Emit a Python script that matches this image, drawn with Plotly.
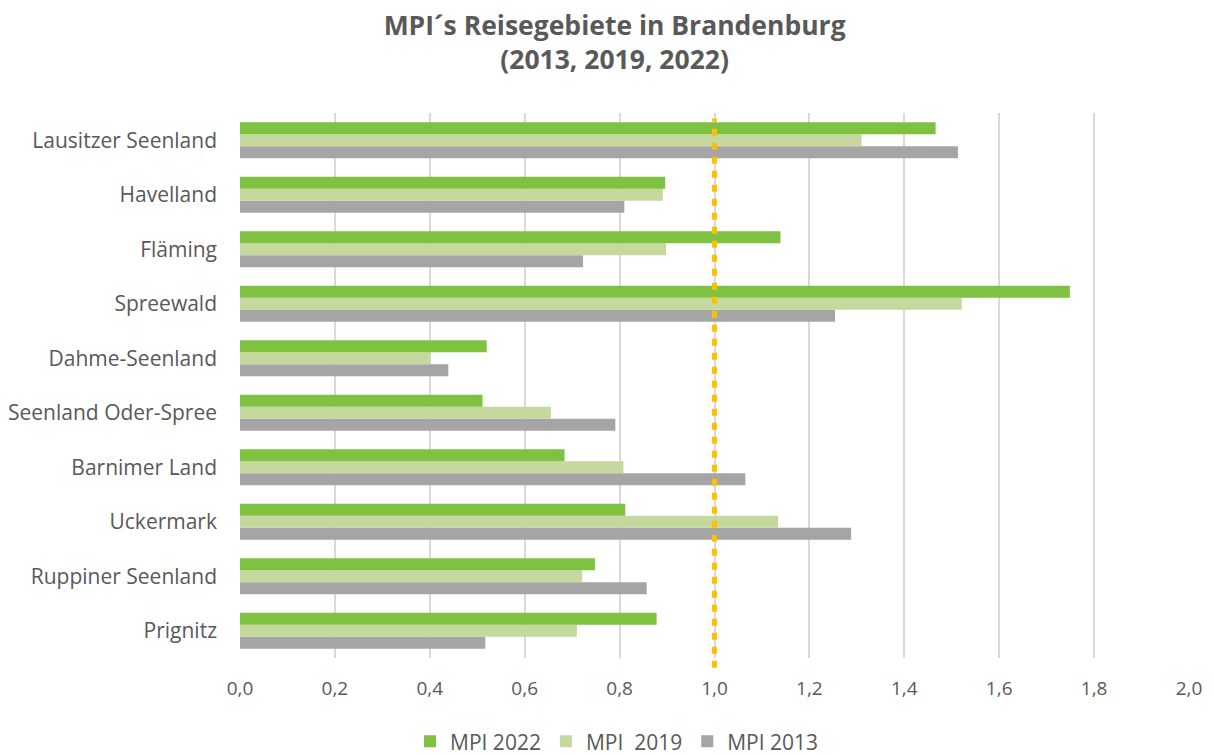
import plotly.graph_objects as go

# Reisegebiete, bottom to top as plotly draws them
regions = [
    "Prignitz",
    "Ruppiner Seenland",
    "Uckermark",
    "Barnimer Land",
    "Seenland Oder-Spree",
    "Dahme-Seenland",
    "Spreewald",
    "Fläming",
    "Havelland",
    "Lausitzer Seenland",
]

mpi_2022 = [0.878, 0.748, 0.812, 0.684, 0.511, 0.520, 1.749, 1.139, 0.896, 1.466]
mpi_2019 = [0.710, 0.721, 1.134, 0.808, 0.655, 0.401, 1.521, 0.898, 0.891, 1.310]
mpi_2013 = [0.517, 0.857, 1.288, 1.065, 0.791, 0.439, 1.254, 0.723, 0.810, 1.513]

x_ticks = [0, 0.2, 0.4, 0.6, 0.8, 1.0, 1.2, 1.4, 1.6, 1.8, 2.0]
x_labels = ["0,0", "0,2", "0,4", "0,6", "0,8", "1,0", "1,2", "1,4", "1,6", "1,8", "2,0"]

grey_text = "#595959"

fig = go.Figure()
# first trace sits lowest in each group, so 2013 goes first
fig.add_trace(go.Bar(y=regions, x=mpi_2013, name="MPI 2013", orientation="h",
                     marker=dict(color="#a5a5a5", line=dict(width=0))))
fig.add_trace(go.Bar(y=regions, x=mpi_2019, name="MPI  2019", orientation="h",
                     marker=dict(color="#c5d89e", line=dict(width=0))))
fig.add_trace(go.Bar(y=regions, x=mpi_2022, name="MPI 2022", orientation="h",
                     marker=dict(color="#7fc241", line=dict(width=0))))

# reference line at MPI = 1
fig.add_shape(type="line", xref="x", yref="paper", x0=1.0, x1=1.0, y0=-0.018, y1=0.99,
              line=dict(color="#ffc000", width=5, dash="7px,7px"), layer="above")

# page body adds an 8px margin, so the figure is 8px smaller than the window
fig.update_layout(
    width=1206,
    height=747,
    margin=dict(l=232, r=25, t=105, b=97, autoexpand=False),
    paper_bgcolor="white",
    plot_bgcolor="white",
    font=dict(family="Open Sans, Calibri, sans-serif", size=19, color=grey_text),
    title=dict(
        text="<b>MPI´s Reisegebiete in Brandenburg<br>(2013, 2019, 2022)</b>",
        x=0.503, xanchor="center", y=0.964, yanchor="top",
        font=dict(size=26.5, color=grey_text),
    ),
    barmode="group",
    bargap=0.34,
    bargroupgap=0,
    showlegend=True,
    legend=dict(
        orientation="h", traceorder="reversed",
        xref="container", x=0.505, xanchor="center",
        yref="paper", y=-0.116, yanchor="top",
        font=dict(size=21, color=grey_text),
        itemwidth=30,
    ),
    xaxis=dict(
        range=[0, 2.0],
        tickvals=x_ticks,
        ticktext=x_labels,
        showgrid=True,
        gridcolor="#d9d9d9",
        gridwidth=1.5,
        zeroline=False,
        showline=False,
        ticks="",
        ticklabelstandoff=17,
        automargin=False,
        tickfont=dict(size=19, color=grey_text),
    ),
    yaxis=dict(
        showgrid=False,
        zeroline=False,
        showline=False,
        ticks="",
        ticklabelstandoff=22,
        automargin=False,
        tickfont=dict(size=21, color=grey_text),
    ),
)

fig.write_html("out.html")
